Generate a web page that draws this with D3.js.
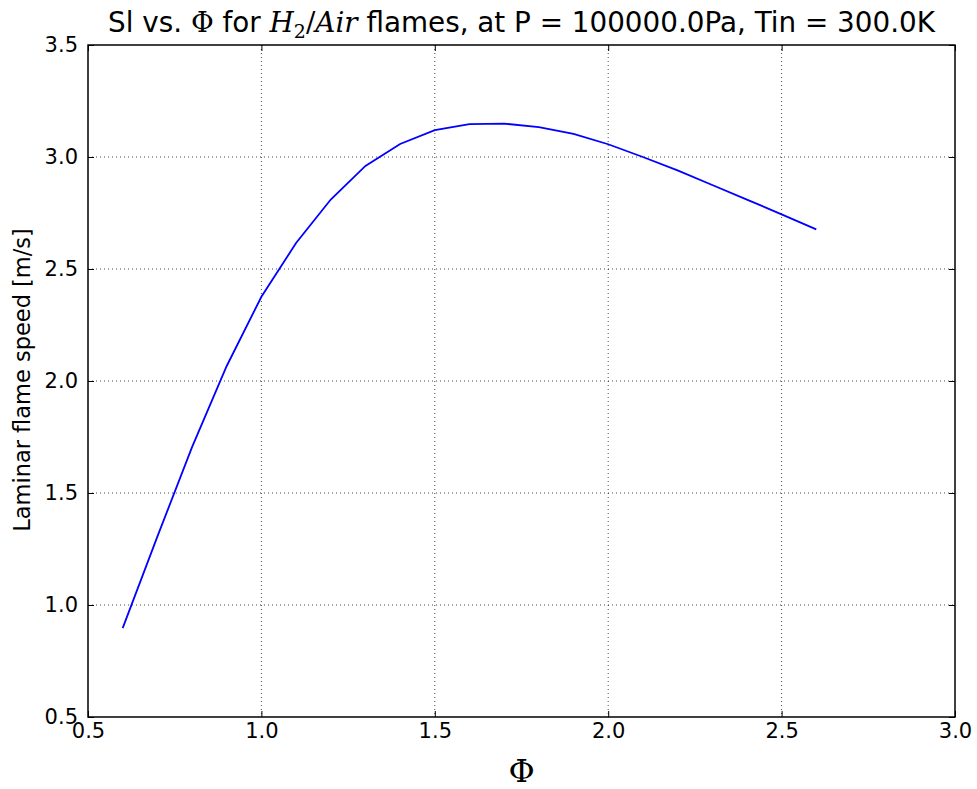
<!DOCTYPE html>
<html><head><meta charset="utf-8">
<script src="https://cdn.jsdelivr.net/npm/d3@7"></script>
<style>body{margin:0;background:#fff}</style>
</head><body>
<script>
const phi = [0.6,0.7,0.8,0.9,1.0,1.1,1.2,1.3,1.4,1.5,1.6,1.7,1.8,1.9,2.0,2.1,2.2,2.3,2.4,2.5,2.6];
const sl  = [0.897,1.305,1.705,2.067,2.376,2.616,2.81,2.96,3.058,3.12,3.147,3.149,3.133,3.103,3.057,3.0,2.94,2.875,2.81,2.744,2.677];
const xTicks = [0.5,1.0,1.5,2.0,2.5,3.0];
const yTicks = [0.5,1.0,1.5,2.0,2.5,3.0,3.5];

const W=977,H=789;
const m={l:88,r:955,t:45,b:717};
const svg=d3.select("body").append("svg").attr("width",W).attr("height",H);
const x=d3.scaleLinear().domain([0.5,3.0]).range([m.l,m.r]);
const y=d3.scaleLinear().domain([0.5,3.5]).range([m.b,m.t]);
const fmt=d3.format(".1f");

// grid
const g=svg.append("g");
g.selectAll(".gx").data(xTicks.slice(1,-1)).join("line")
 .attr("x1",d=>x(d)).attr("x2",d=>x(d)).attr("y1",m.t).attr("y2",m.b)
 .attr("stroke","#000").attr("stroke-width",1).attr("stroke-dasharray","1,3").attr("opacity",0.7);
g.selectAll(".gy").data(yTicks.slice(1,-1)).join("line")
 .attr("y1",d=>y(d)).attr("y2",d=>y(d)).attr("x1",m.l).attr("x2",m.r)
 .attr("stroke","#000").attr("stroke-width",1).attr("stroke-dasharray","1,3").attr("opacity",0.7);

// line
svg.append("path").datum(phi.map((p,i)=>[p,sl[i]]))
 .attr("d",d3.line().x(d=>x(d[0])).y(d=>y(d[1])))
 .attr("fill","none").attr("stroke","#0000ff").attr("stroke-width",1.8);

// axes (inside ticks, all four sides)
const tk=6;
svg.append("g").attr("transform",`translate(0,${m.b})`)
 .call(d3.axisBottom(x).tickValues(xTicks).tickFormat(fmt).tickSizeInner(-tk).tickSizeOuter(0).tickPadding(6))
 .call(a=>a.select(".domain").remove());
svg.append("g").attr("transform",`translate(0,${m.t})`)
 .call(d3.axisTop(x).tickValues(xTicks).tickFormat("").tickSizeInner(-tk).tickSizeOuter(0))
 .call(a=>a.select(".domain").remove());
svg.append("g").attr("transform",`translate(${m.l},0)`)
 .call(d3.axisLeft(y).tickValues(yTicks).tickFormat(fmt).tickSizeInner(-tk).tickSizeOuter(0).tickPadding(10))
 .call(a=>a.select(".domain").remove());
svg.append("g").attr("transform",`translate(${m.r},0)`)
 .call(d3.axisRight(y).tickValues(yTicks).tickFormat("").tickSizeInner(-tk).tickSizeOuter(0))
 .call(a=>a.select(".domain").remove());
svg.selectAll(".tick text").attr("font-family","DejaVu Sans").attr("font-size",21).attr("fill","#000");
svg.selectAll(".tick line").attr("stroke","#000").attr("stroke-width",1);

svg.append("rect").attr("x",m.l).attr("y",m.t).attr("width",m.r-m.l).attr("height",m.b-m.t)
 .attr("fill","none").attr("stroke","#000").attr("stroke-width",1.5);

// title
const t=svg.append("text").attr("x",(m.l+m.r)/2).attr("y",32).attr("text-anchor","middle")
 .attr("font-family","DejaVu Sans").attr("font-size",27.8).attr("fill","#000");
t.append("tspan").text("Sl vs. ");
t.append("tspan").attr("font-family","DejaVu Serif").text("Φ");
t.append("tspan").text(" for ");
t.append("tspan").attr("font-family","DejaVu Serif").attr("font-style","italic").text("H");
t.append("tspan").attr("font-family","DejaVu Serif").attr("font-size",19).attr("dy",6).text("2");
t.append("tspan").attr("font-family","DejaVu Serif").attr("dy",-6).text("/");
t.append("tspan").attr("font-family","DejaVu Serif").attr("font-style","italic").text("Air");
t.append("tspan").text(" flames, at P = 100000.0Pa, Tin = 300.0K");

// axis labels
svg.append("text").attr("x",(m.l+m.r)/2).attr("y",782).attr("text-anchor","middle")
 .attr("font-family","DejaVu Serif").attr("font-size",32).attr("fill","#000").text("Φ");
svg.append("text").attr("transform",`translate(30,${(m.t+m.b)/2 - 1}) rotate(-90)`).attr("text-anchor","middle")
 .attr("font-family","DejaVu Sans").attr("font-size",22.5).attr("fill","#000").text("Laminar flame speed [m/s]");
</script>
</body></html>
